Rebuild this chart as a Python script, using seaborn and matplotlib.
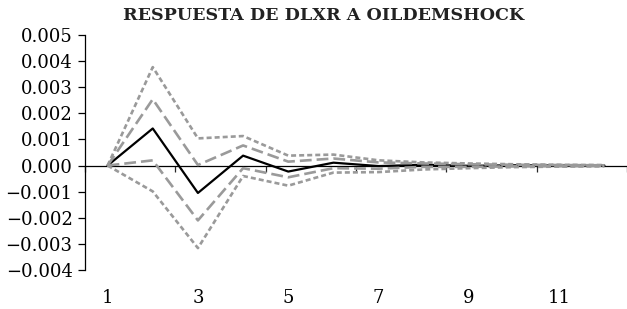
import numpy as np
import pandas as pd
import matplotlib
matplotlib.use('Agg')
import matplotlib.pyplot as plt
import seaborn as sns

# Impulse response values (periods 1..12)
periods = list(range(1, 13))
response = [0.0, 0.00142, -0.00105, 0.00038, -0.00023, 0.00011,
            -0.00002, 0.00003, -0.00001, 0.00001, 0.0, 0.0]
band_inner_up = [0.0, 0.00254, 0.00002, 0.00077, 0.00015, 0.00027,
                 0.00012, 0.00008, 0.00005, 0.00003, 0.00002, 0.00001]
band_inner_low = [0.0, 0.0002, -0.0021, -0.0001, -0.00045, -0.0001,
                  -0.00012, -0.00005, -0.00005, -0.00003, -0.00002, -0.00001]
band_outer_up = [0.0, 0.00377, 0.00104, 0.00113, 0.00038, 0.00042,
                 0.0002, 0.00012, 0.00008, 0.00005, 0.00003, 0.00002]
band_outer_low = [0.0, -0.00099, -0.00316, -0.0004, -0.00077, -0.00027,
                  -0.00025, -0.00015, -0.0001, -0.00006, -0.00004, -0.00003]

x_labels = ['1', '3', '5', '7', '9', '11']
title = 'RESPUESTA DE DLXR A OILDEMSHOCK'

sns.set_theme(style='white')
plt.rcParams['font.family'] = ['DejaVu Serif']
plt.rcParams['lines.scale_dashes'] = False

df = pd.DataFrame({'period': periods, 'resp': response,
                   'in_up': band_inner_up, 'in_low': band_inner_low,
                   'out_up': band_outer_up, 'out_low': band_outer_low})

fig = plt.figure(figsize=(6.27, 3.09), dpi=100)
ax = fig.add_axes([85 / 627, 1 - 270 / 309, 542 / 627, 235 / 309])

gray = '#9a9a9a'
sns.lineplot(data=df, x='period', y='resp', color='black', lw=1.6, ax=ax, zorder=3)
for col in ['in_up', 'in_low']:
    sns.lineplot(data=df, x='period', y=col, color=gray, lw=1.9,
                 dashes=(8.5, 3.6), ax=ax, zorder=3)
for col in ['out_up', 'out_low']:
    sns.lineplot(data=df, x='period', y=col, color=gray, lw=1.9,
                 dashes=(3.6, 2.2), ax=ax, zorder=3)

ax.set_xlim(0.5, 12.5)
ax.set_ylim(-0.004, 0.005)
ax.set_yticks(np.arange(-0.004, 0.0051, 0.001))
ax.set_yticklabels([f'{v:.3f}'.replace('-', '\u2212') if abs(v) > 1e-12 else '0.000'
                    for v in np.arange(-0.004, 0.0051, 0.001)])
ax.tick_params(axis='y', direction='out', length=5, width=0.9, pad=4,
               labelsize=13, colors='black', left=True)

# x axis line through zero, ticks at category boundaries
ax.spines['bottom'].set_position(('data', 0))
ax.spines['top'].set_visible(False)
ax.spines['right'].set_visible(False)
for s in ['left', 'bottom']:
    ax.spines[s].set_color('black')
    ax.spines[s].set_linewidth(0.9)
ax.set_xticks(np.arange(0.5, 12.6, 2))
ax.set_xticklabels([])
ax.tick_params(axis='x', direction='out', length=4.5, width=0.9, bottom=True)

# period labels at the bottom of the plot area
sec = ax.secondary_xaxis('bottom')
sec.set_xticks([int(v) for v in x_labels])
sec.set_xticklabels(x_labels)
sec.spines['bottom'].set_visible(False)
sec.tick_params(axis='x', length=0, pad=14, labelsize=13, colors='black')

ax.set_xlabel('')
ax.set_ylabel('')
fig.text(323.5 / 627, 1 - 16 / 309, title, ha='center', va='center',
         fontsize=12.6, fontweight='bold', color='#222222')

fig.savefig('out.png', dpi=100)
